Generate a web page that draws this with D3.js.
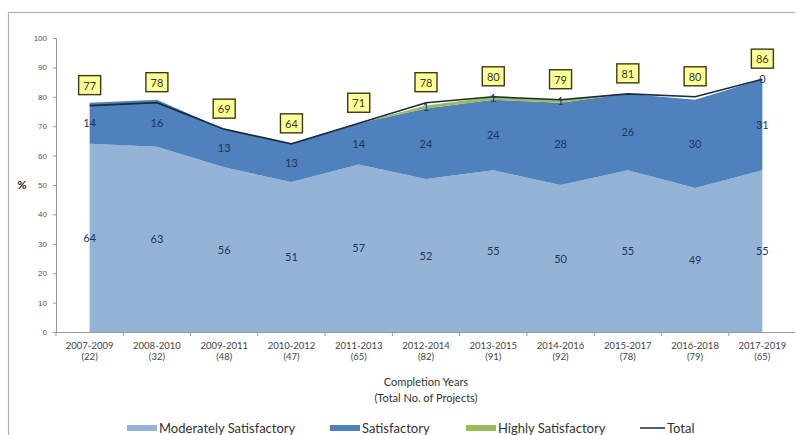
<!DOCTYPE html>
<html>
<head>
<meta charset="utf-8">
<script src="https://cdn.jsdelivr.net/npm/d3@7"></script>
<style>
  body { margin: 0; background: #fff; }
  svg { display: block; font-family: Lato, "Open Sans", sans-serif; }
</style>
</head>
<body>
<svg id="chart" width="795" height="435"></svg>
<script>
// data
const years = ['2007-2009', '2008-2010', '2009-2011', '2010-2012', '2011-2013', '2012-2014',
               '2013-2015', '2014-2016', '2015-2017', '2016-2018', '2017-2019'];
const projects = ['(22)', '(32)', '(48)', '(47)', '(65)', '(82)', '(91)', '(92)', '(78)', '(79)', '(65)'];
const moderately = [64, 63, 56, 51, 57, 52, 55, 50, 55, 49, 55];
const satisfactory = [14, 16, 13, 13, 14, 24, 24, 28, 26, 30, 31];
const highly = [null, null, null, null, null, 1, 1, 1, null, null, 0];
const total = [77, 78, 69, 64, 71, 78, 80, 79, 81, 80, 86];
const yTicks = [0, 10, 20, 30, 40, 50, 60, 70, 80, 90, 100];

const svg = d3.select('#chart');

// frame
svg.append('rect').attr('x', 8.5).attr('y', 12.5).attr('width', 800).attr('height', 440)
  .attr('fill', 'none').attr('stroke', '#b0b0b0').attr('stroke-width', 1.2);

const x = d3.scalePoint().domain(years).range([56, 796]).padding(0.5);
const y = d3.scaleLinear().domain([0, 100]).range([332, 38]);

// stack
const rows = years.map((yr, i) => ({
  year: yr,
  mod: moderately[i],
  sat: satisfactory[i],
  high: highly[i] || 0
}));
const stack = d3.stack().keys(['mod', 'sat', 'high'])(rows);
const colors = { mod: '#95b3d7', sat: '#4f81bd', high: '#9bbb59' };

const area = d3.area()
  .x(d => x(d.data.year))
  .y0(d => y(d[0]))
  .y1(d => y(d[1]));

svg.selectAll('path.layer').data(stack).enter().append('path')
  .attr('class', 'layer')
  .attr('d', area)
  .attr('fill', d => colors[d.key]);

// total line
const line = d3.line().x((d, i) => x(years[i])).y(d => y(d));
svg.append('path').datum(total).attr('d', line)
  .attr('fill', 'none').attr('stroke', '#1c2a3a').attr('stroke-width', 1.6);

// y axis
const yAxis = d3.axisLeft(y).tickValues(yTicks).tickSize(3).tickPadding(6);
const gy = svg.append('g').attr('transform', 'translate(56,0)').call(yAxis);
gy.select('.domain').attr('stroke', '#9a9a9a');
gy.selectAll('.tick line').attr('stroke', '#9a9a9a');
gy.selectAll('.tick text').attr('fill', '#555').style('font-size', '8px');

// x axis baseline with ticks between categories
svg.append('line').attr('x1', 56).attr('x2', 796).attr('y1', 332.5).attr('y2', 332.5)
  .attr('stroke', '#9a9a9a');
const step = x.step();
svg.selectAll('line.xt').data(years).enter().append('line')
  .attr('class', 'xt')
  .attr('x1', d => x(d) - step / 2).attr('x2', d => x(d) - step / 2)
  .attr('y1', 332).attr('y2', 336).attr('stroke', '#9a9a9a');

const xl = svg.selectAll('text.xl').data(years).enter().append('text')
  .attr('class', 'xl')
  .attr('text-anchor', 'middle')
  .attr('fill', '#444')
  .style('font-size', '9.5px');
xl.append('tspan').attr('x', d => x(d)).attr('y', 349).text(d => d);
xl.append('tspan').attr('x', d => x(d)).attr('y', 360).text((d, i) => projects[i]);

// axis titles
svg.append('text').attr('x', 426).attr('y', 386).attr('text-anchor', 'middle')
  .attr('fill', '#333').style('font-size', '11px').text('Completion Years');
svg.append('text').attr('x', 426).attr('y', 402).attr('text-anchor', 'middle')
  .attr('fill', '#333').style('font-size', '11px').text('(Total No. of Projects)');
svg.append('text').attr('x', 22).attr('y', 189).attr('text-anchor', 'middle')
  .attr('fill', '#222').style('font-size', '11px').style('font-weight', 'bold').text('%');

// segment labels
const labelColor = '#1f3457';
stack.forEach((layer, li) => {
  const src = [moderately, satisfactory, highly][li];
  svg.selectAll('text.lab' + li).data(layer).enter()
    .filter((d, i) => src[i] !== null)
    .append('text')
    .attr('class', 'lab' + li)
    .attr('x', d => x(d.data.year))
    .attr('y', d => y((d[0] + d[1]) / 2) + 4)
    .attr('text-anchor', 'middle')
    .attr('fill', labelColor)
    .style('font-size', '11px')
    .text((d, i) => src[years.indexOf(d.data.year)]);
});

// total boxes
const box = svg.selectAll('g.tot').data(total).enter().append('g')
  .attr('class', 'tot')
  .attr('transform', (d, i) => `translate(${x(years[i])},${y(d) - 20})`);
box.append('rect').attr('x', -11).attr('y', -10).attr('width', 22).attr('height', 19)
  .attr('fill', '#ffff99').attr('stroke', '#3a3a10').attr('stroke-width', 1.4);
box.append('text').attr('y', 4).attr('text-anchor', 'middle')
  .attr('fill', '#3a3a20').style('font-size', '11px').text(d => d);

// legend
const legend = [
  { name: 'Moderately Satisfactory', color: colors.mod, x: 127, type: 'rect' },
  { name: 'Satisfactory', color: colors.sat, x: 330, type: 'rect' },
  { name: 'Highly Satisfactory', color: colors.high, x: 466, type: 'rect' },
  { name: 'Total', color: '#1c2a3a', x: 640, type: 'line' }
];
const lg = svg.selectAll('g.lg').data(legend).enter().append('g')
  .attr('class', 'lg').attr('transform', d => `translate(${d.x},428)`);
lg.filter(d => d.type === 'rect').append('rect')
  .attr('x', 0).attr('y', -3).attr('width', 30).attr('height', 6).attr('fill', d => d.color);
lg.filter(d => d.type === 'line').append('line')
  .attr('x1', 0).attr('x2', 25).attr('y1', 0).attr('y2', 0)
  .attr('stroke', d => d.color).attr('stroke-width', 1.5);
lg.append('text').attr('x', d => d.type === 'rect' ? 32 : 27).attr('y', 4.5)
  .attr('fill', '#333').style('font-size', '13px').text(d => d.name);
</script>
</body>
</html>
